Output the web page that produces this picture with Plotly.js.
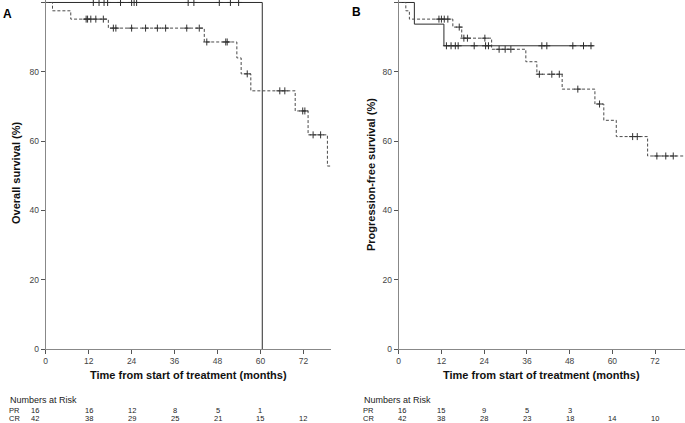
<!DOCTYPE html>
<html>
<head>
<meta charset="utf-8">
<script src="https://cdn.plot.ly/plotly-3.0.1.min.js"></script>
<style>html,body{margin:0;padding:0;background:#fff}#chart{width:685px;height:423px}</style>
</head>
<body>
<div id="chart"></div>
<script>
// ---- Panel A: overall survival ----
const osPR_t = [0, 60.5];
const osPR_s = [100, 0];
const osPR_cens = [13.3, 14.9, 16.3, 17.3, 20.9, 24.0, 24.7, 25.4, 39.8, 41.4, 48.5, 51.6, 53.9];
const osCR_t = [0, 1.9, 7.0, 17.5, 44.3, 53.4, 54.6, 57.3, 69.7, 73.3, 78.7, 79.6];
const osCR_s = [100, 97.6, 95.2, 92.6, 88.6, 84.0, 79.4, 74.5, 68.7, 61.8, 52.8, 52.8];
const osCR_cens = [11.3, 11.7, 12.6, 14.0, 16.1, 18.9, 19.6, 24.0, 27.9, 31.2, 33.5, 39.4, 42.9, 45.0, 50.3, 50.7, 56.3, 65.4, 66.8, 71.8, 72.4, 74.7, 76.8];

// ---- Panel B: progression-free survival ----
const pfsPR_t = [0, 4.4, 12.7, 54.7];
const pfsPR_s = [100, 93.75, 87.5, 87.5];
const pfsPR_cens = [13.4, 14.7, 15.9, 16.7, 21.2, 24.4, 25.2, 40.2, 41.6, 48.9, 51.9, 54.0];
const pfsCR_t = [0, 2.0, 3.0, 15.2, 17.7, 26.1, 35.7, 38.8, 45.9, 55.1, 57.6, 61.1, 69.9, 80.4];
const pfsCR_s = [100, 97.6, 95.2, 92.9, 89.7, 86.5, 82.9, 79.3, 75.0, 70.7, 66.0, 61.3, 55.7, 55.7];
const pfsCR_cens = [11.3, 12.0, 12.8, 13.8, 17.0, 18.3, 19.3, 24.2, 28.2, 29.9, 31.5, 39.5, 43.0, 45.1, 50.3, 56.4, 65.7, 67.0, 72.5, 75.0, 77.1];

// ---- Numbers at risk ----
const riskTimes = [0, 12, 24, 36, 48, 60, 72];
const osRiskPR = [16, 16, 12, 8, 5, 1, null];
const osRiskCR = [42, 38, 29, 25, 21, 15, 12];
const pfsRiskPR = [16, 15, 9, 5, 3, null, null];
const pfsRiskCR = [42, 38, 28, 23, 18, 14, 10];

const xTicks = [0, 12, 24, 36, 48, 60, 72];
const yTicks = [0, 20, 40, 60, 80, 100];

function survAt(ts, ss, t) {
  let v = ss[0];
  for (let i = 0; i < ts.length; i++) { if (ts[i] <= t) v = ss[i]; }
  return v;
}

const solidCol = '#2b2b2b', dashCol = '#4a4a4a';
function curve(ts, ss, xa, ya, dashed) {
  return {x: ts, y: ss, xaxis: xa, yaxis: ya, type: 'scatter', mode: 'lines',
    line: {shape: 'hv', color: dashed ? dashCol : solidCol, width: 1, dash: dashed ? '3px,2px' : 'solid'},
    hoverinfo: 'skip', showlegend: false};
}
function cens(ts, ss, cs, xa, ya, dashed) {
  return {x: cs, y: cs.map(t => survAt(ts, ss, t)), xaxis: xa, yaxis: ya, type: 'scatter', mode: 'markers',
    marker: {symbol: 'cross-thin', size: 5, line: {color: dashed ? '#333' : solidCol, width: 1}},
    cliponaxis: false, hoverinfo: 'skip', showlegend: false};
}

const data = [
  curve(osPR_t, osPR_s, 'x', 'y', false),
  curve(osCR_t, osCR_s, 'x', 'y', true),
  cens(osPR_t, osPR_s, osPR_cens, 'x', 'y', false),
  cens(osCR_t, osCR_s, osCR_cens, 'x', 'y', true),
  curve(pfsPR_t, pfsPR_s, 'x2', 'y2', false),
  curve(pfsCR_t, pfsCR_s, 'x2', 'y2', true),
  cens(pfsPR_t, pfsPR_s, pfsPR_cens, 'x2', 'y2', false),
  cens(pfsCR_t, pfsCR_s, pfsCR_cens, 'x2', 'y2', true)
];

const W = 685, H = 423;
const FONT = 'Arial, "Liberation Sans", sans-serif';
const tickFont = {family: FONT, size: 8.5, color: '#444'};
const yDom = [(H - 349) / H, (H - 0.4) / H];
function xAxis(dom, rng, anchor) {
  return {domain: dom, range: rng, anchor: anchor, tickvals: xTicks, ticks: 'outside', ticklen: 4, tickwidth: 1,
    tickcolor: '#555', showline: true, linecolor: '#888', linewidth: 1, showgrid: false, zeroline: false,
    tickfont: tickFont, fixedrange: true};
}
function yAxis(rng, anchor) {
  return {domain: yDom, range: rng, anchor: anchor, tickvals: yTicks, ticks: 'outside', ticklen: 4, tickwidth: 1,
    tickcolor: '#555', showline: true, linecolor: '#888', linewidth: 1, showgrid: false, zeroline: false,
    tickfont: tickFont, fixedrange: true};
}

const px = v => v / W, py = v => (H - v) / H;
const ann = [];
function A(o) { ann.push(Object.assign({showarrow: false, xanchor: 'center', yanchor: 'middle', borderpad: 0}, o)); }
const bold = {family: FONT, size: 11, color: '#111'};
A({text: '<b>A</b>', xref: 'paper', yref: 'paper', x: px(7), y: py(14), font: {family: FONT, size: 12, color: '#000'}});
A({text: '<b>B</b>', xref: 'paper', yref: 'paper', x: px(356), y: py(12), font: {family: FONT, size: 12, color: '#000'}});
A({text: '<b>Overall survival (%)</b>', xref: 'paper', yref: 'paper', x: px(16), y: py(173), textangle: -90, font: bold});
A({text: '<b>Progression-free survival (%)</b>', xref: 'paper', yref: 'paper', x: px(371), y: py(175), textangle: -90, font: bold});
A({text: '<b>Time from start of treatment (months)</b>', xref: 'paper', yref: 'paper', x: px(188.3), y: py(375), font: bold});
A({text: '<b>Time from start of treatment (months)</b>', xref: 'paper', yref: 'paper', x: px(541.5), y: py(375), font: bold});

const rfont = {family: FONT, size: 7.5, color: '#222'};
const rowPR = 410, rowCR = 418.5;
function riskTable(xref, left, firstShift, pr, cr) {
  A({text: 'Numbers at Risk', xref: 'paper', yref: 'paper', x: px(left), xanchor: 'left', y: py(400), font: {family: FONT, size: 9, color: '#222'}});
  A({text: 'PR', xref: 'paper', yref: 'paper', x: px(left - 1), xanchor: 'left', y: py(rowPR), font: rfont});
  A({text: 'CR', xref: 'paper', yref: 'paper', x: px(left - 1), xanchor: 'left', y: py(rowCR), font: rfont});
  riskTimes.forEach((t, i) => {
    const sh = i === 0 ? firstShift : 0;
    if (pr[i] !== null) A({text: String(pr[i]), xref: xref, yref: 'paper', x: t, xshift: sh, y: py(rowPR), font: rfont});
    if (cr[i] !== null) A({text: String(cr[i]), xref: xref, yref: 'paper', x: t, xshift: sh, y: py(rowCR), font: rfont});
  });
}
riskTable('x', 9, -10.7, osRiskPR, osRiskCR);
riskTable('x2', 363, 3.3, pfsRiskPR, pfsRiskCR);

const layout = {
  width: W, height: H, margin: {l: 0, r: 0, t: 0, b: 0},
  paper_bgcolor: '#fff', plot_bgcolor: '#fff', showlegend: false,
  xaxis: xAxis([45.7 / W, 331 / W], [0, 79.7], 'y'),
  yaxis: yAxis([0, 100.6], 'x'),
  xaxis2: xAxis([398.7 / W, 1], [0, 80.4], 'y2'),
  yaxis2: yAxis([0, 100.6], 'x2'),
  annotations: ann
};
Plotly.newPlot('chart', data, layout, {staticPlot: true, displayModeBar: false});
</script>
</body>
</html>
